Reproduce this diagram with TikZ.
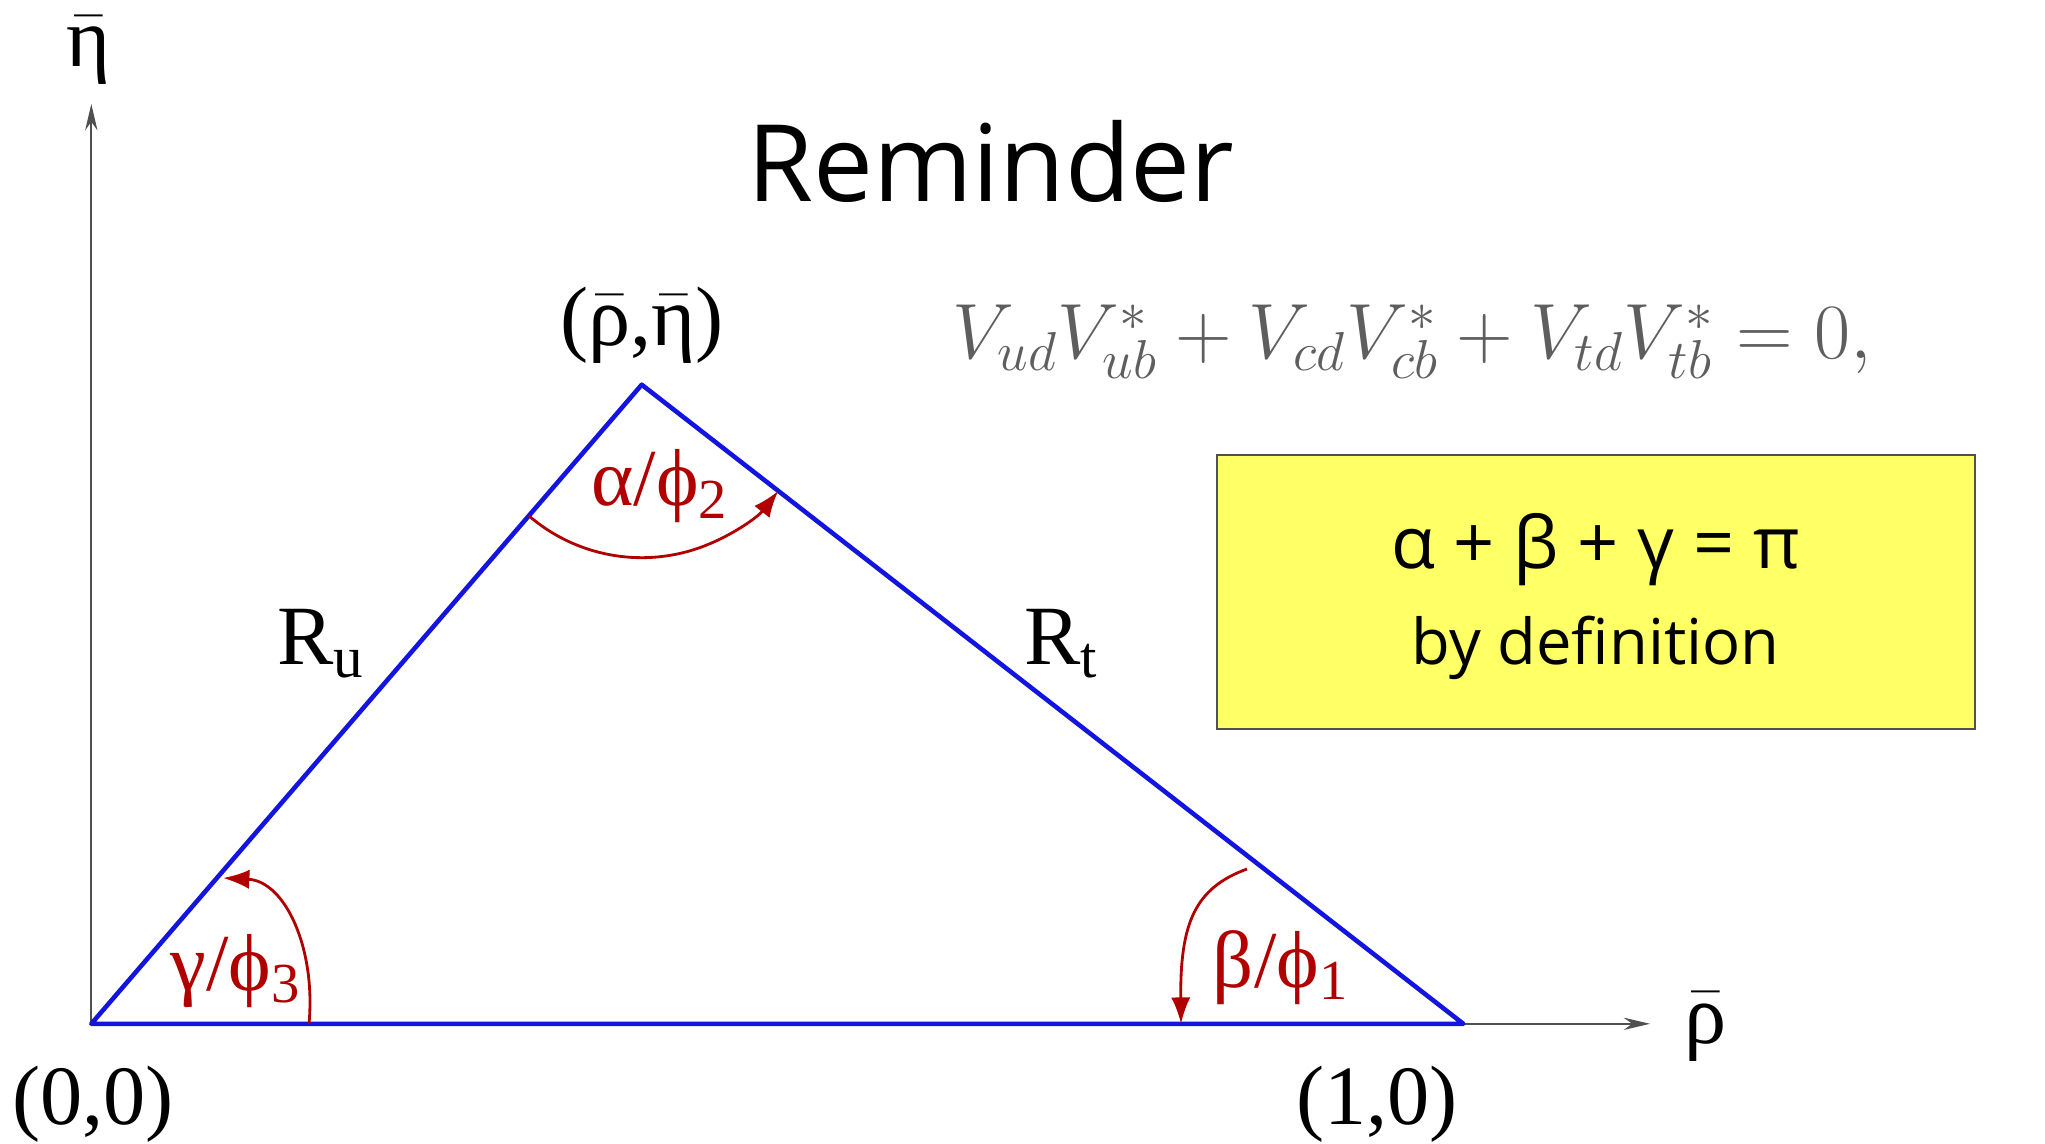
\documentclass[tikz,border=0pt]{standalone}
\usepackage{fix-cm}
\usepackage[no-math]{fontspec}
\setmainfont{Liberation Serif}
\setsansfont{Open Sans}
\usepackage{xcolor}
\definecolor{anglered}{HTML}{B00000}
\definecolor{sideblue}{HTML}{1414E0}
\definecolor{axisgray}{HTML}{505050}
\definecolor{eqgray}{HTML}{5E5E5E}
\definecolor{noteyellow}{HTML}{FFFF66}
\usetikzlibrary{arrows.meta,positioning}
\newcommand{\barred}[1]{\ensuremath{\bar{\mbox{#1}}}}

\begin{document}
\begin{tikzpicture}[
			x=1cm, y=1cm,
			>=Stealth,
			lbl/.style={inner sep=0pt, font=\fontsize{24}{28}\selectfont},
			anglbl/.style={inner sep=0pt, text=anglered, font=\fontsize{23}{27}\selectfont},
			side/.style={sideblue, line width=1.3pt, line join=round},
			angarc/.style={anglered, line width=0.8pt, -{Latex[length=7.5pt,width=5.5pt]}},
			axis/.style={axisgray, line width=0.5pt, -{Stealth[length=7.5pt,width=3.5pt]}}
		]
			\useasboundingbox (0,0) rectangle (20.45,11.43);

			\coordinate (O) at (0.913,1.192);
			\coordinate (B) at (14.633,1.192);
			\coordinate (A) at (6.417,7.583);
			\coordinate (Ytop) at (0.913,10.39);
			\coordinate (Xend) at (16.50,1.192);

			% Axes
			\draw[axis] (O) -- (Ytop);
			\draw[axis] (O) -- (Xend);
			\node[lbl, anchor=base] (etalabel) at (0.89,10.76) {\barred{η}};
			\node[lbl, anchor=base] (rholabel) at (17.06,1.00) {\barred{ρ}};

			% Unitarity triangle
			\draw[side] (O) -- (A) -- (B) -- cycle;
			\node[lbl, anchor=base] (apexlabel) at (6.42,7.97) {(\barred{ρ},\barred{η})};
			\node[lbl, anchor=base] (originlabel) at (0.93,0.19) {(0,0)};
			\node[lbl, anchor=base] (unitlabel) at (13.77,0.19) {(1,0)};
			\node[lbl, anchor=base west] (Rulabel) at (2.77,4.78) {R\textsubscript{u}};
			\node[lbl, anchor=base west] (Rtlabel) at (10.24,4.78) {R\textsubscript{t}};

			% Angle arcs
			\draw[angarc] (A) ++(229.3:1.73) arc[start angle=229.3, end angle=322.1, radius=1.73];
			\coordinate (Gs) at (3.09,1.192);
			\coordinate (Ge) at (2.23,2.65);
			\draw[angarc] (Gs) .. controls (3.16,1.95) and (2.85,2.62) .. (Ge);
			\coordinate (Bs) at (12.47,2.74);
			\coordinate (Be) at (11.81,1.192);
			\draw[angarc] (Bs) .. controls (11.95,2.55) and (11.80,2.2) .. (Be);
			\node[anglbl, anchor=base] (alphalabel) at (6.60,6.37) {α/ϕ\textsubscript{2}};
			\node[anglbl, anchor=base] (gammalabel) at (2.36,1.53) {γ/ϕ\textsubscript{3}};
			\node[anglbl, anchor=base] (betalabel) at (12.81,1.56) {β/ϕ\textsubscript{1}};

			% Title, unitarity relation and note
			\node[inner sep=0pt, anchor=base, font=\sffamily\fontsize{30.4}{36}\selectfont] (title) at (9.91,9.41) {Reminder};
			\node[inner sep=0pt, anchor=base west, text=eqgray, font=\fontsize{22.3}{26}\selectfont] (relation) at (9.52,7.84)
				{$V_{ud}V^*_{ub}+V_{cd}V^*_{cb}+V_{td}V^*_{tb}=0,$};
			\node[draw=axisgray, fill=noteyellow, line width=0.6pt, minimum width=7.578cm, minimum height=2.738cm,
				inner sep=0pt] (defnbox) at (15.957,5.509) {};
			\node[inner sep=0pt, anchor=base, font=\sffamily\fontsize{20.5}{24}\selectfont] (sumline) at (15.957,5.74)
				{α + β + γ = π};
			\node[inner sep=0pt, anchor=base, font=\sffamily\fontsize{18}{24}\selectfont] (defnline) at (15.957,4.79)
				{by definition};
		\end{tikzpicture}
\end{document}
